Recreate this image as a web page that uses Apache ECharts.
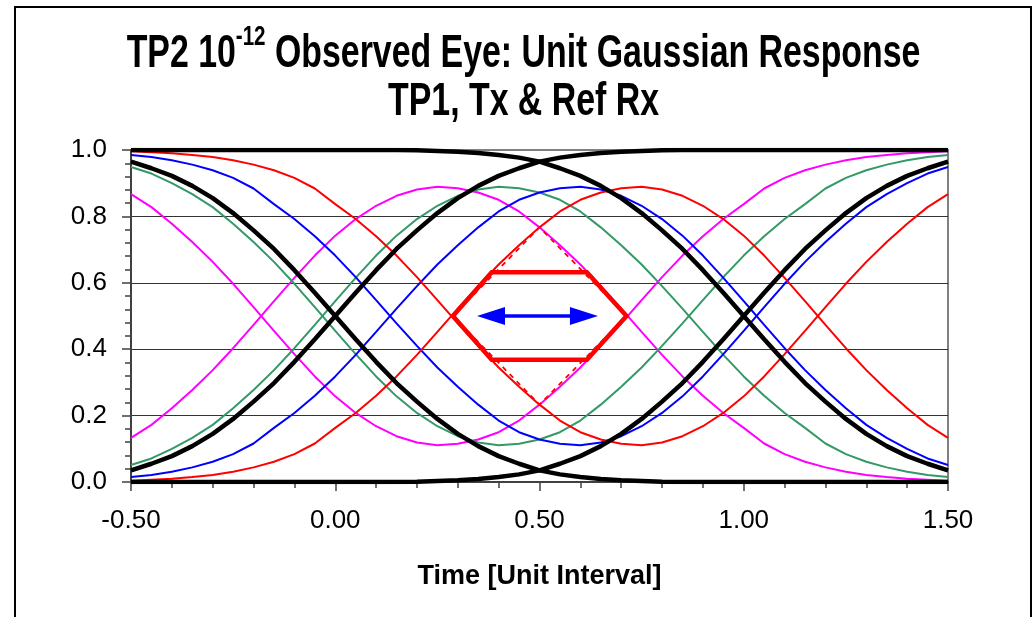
<!DOCTYPE html>
<html><head><meta charset="utf-8">
<script src="https://cdn.jsdelivr.net/npm/echarts/dist/echarts.min.js"></script>
<style>html,body{margin:0;padding:0;background:#fff}#c{width:1033px;height:617px}</style>
</head><body><div id="c"></div>
<script>
// time axis samples [UI]
const xs = [-0.5,-0.45,-0.4,-0.35,-0.3,-0.25,-0.2,-0.15,-0.1,-0.05,0,0.05,0.1,0.15,0.2,0.25,0.3,0.35,0.4,0.45,0.5,0.55,0.6,0.65,0.7,0.75,0.8,0.85,0.9,0.95,1,1.05,1.1,1.15,1.2,1.25,1.3,1.35,1.4,1.45,1.5];

// black (thick) edges
const blackRise0 = [0.035,0.055,0.078,0.108,0.145,0.190,0.242,0.298,0.362,0.430,0.500,0.570,0.638,0.702,0.758,0.810,0.855,0.892,0.922,0.945,0.965,0.977,0.985,0.991,0.995,0.997,0.999,1,1,1,1,1,1,1,1,1,1,1,1,1,1];
const blackFall0 = [0.965,0.945,0.922,0.892,0.855,0.810,0.758,0.702,0.638,0.570,0.500,0.430,0.362,0.298,0.242,0.190,0.145,0.108,0.078,0.055,0.035,0.023,0.015,0.009,0.005,0.003,0.001,0,0,0,0,0,0,0,0,0,0,0,0,0,0];
const blackRise1 = [0,0,0,0,0,0,0,0,0,0,0,0,0,0,0.001,0.003,0.005,0.009,0.015,0.023,0.035,0.055,0.078,0.108,0.145,0.190,0.242,0.298,0.362,0.430,0.500,0.570,0.638,0.702,0.758,0.810,0.855,0.892,0.922,0.945,0.965];
const blackFall1 = [1,1,1,1,1,1,1,1,1,1,1,1,1,1,0.999,0.997,0.995,0.991,0.985,0.977,0.965,0.945,0.922,0.892,0.855,0.810,0.758,0.702,0.638,0.570,0.500,0.430,0.362,0.298,0.242,0.190,0.145,0.108,0.078,0.055,0.035];

// coloured pulses and their complements
const magentaPulse = [0.133,0.172,0.222,0.277,0.337,0.403,0.473,0.545,0.615,0.682,0.742,0.792,0.832,0.862,0.881,0.889,0.885,0.872,0.850,0.815,0.767,0.713,0.655,0.590,0.522,0.452,0.383,0.318,0.260,0.208,0.163,0.116,0.084,0.061,0.044,0.031,0.021,0.015,0.010,0.007,0.004];
const magentaInv = [0.867,0.828,0.778,0.723,0.663,0.597,0.527,0.455,0.385,0.318,0.258,0.208,0.168,0.138,0.119,0.111,0.115,0.128,0.150,0.185,0.233,0.287,0.345,0.410,0.478,0.548,0.617,0.682,0.740,0.792,0.837,0.884,0.916,0.939,0.956,0.969,0.979,0.985,0.990,0.993,0.996];
const greenPulse = [0.051,0.071,0.100,0.133,0.172,0.222,0.277,0.337,0.403,0.473,0.545,0.615,0.682,0.742,0.792,0.832,0.862,0.881,0.889,0.885,0.872,0.850,0.815,0.767,0.713,0.655,0.590,0.522,0.452,0.383,0.318,0.260,0.208,0.163,0.116,0.084,0.061,0.044,0.031,0.021,0.015];
const greenInv = [0.949,0.929,0.900,0.867,0.828,0.778,0.723,0.663,0.597,0.527,0.455,0.385,0.318,0.258,0.208,0.168,0.138,0.119,0.111,0.115,0.128,0.150,0.185,0.233,0.287,0.345,0.410,0.478,0.548,0.617,0.682,0.740,0.792,0.837,0.884,0.916,0.939,0.956,0.969,0.979,0.985];
const bluePulse = [0.015,0.021,0.031,0.044,0.061,0.084,0.116,0.163,0.208,0.260,0.318,0.383,0.452,0.522,0.590,0.655,0.713,0.767,0.815,0.850,0.872,0.885,0.889,0.881,0.862,0.832,0.792,0.742,0.682,0.615,0.545,0.473,0.403,0.337,0.277,0.222,0.172,0.133,0.100,0.071,0.051];
const blueInv = [0.985,0.979,0.969,0.956,0.939,0.916,0.884,0.837,0.792,0.740,0.682,0.617,0.548,0.478,0.410,0.345,0.287,0.233,0.185,0.150,0.128,0.115,0.111,0.119,0.138,0.168,0.208,0.258,0.318,0.385,0.455,0.527,0.597,0.663,0.723,0.778,0.828,0.867,0.900,0.929,0.949];
const redPulse = [0.004,0.007,0.010,0.015,0.021,0.031,0.044,0.061,0.084,0.116,0.163,0.208,0.260,0.318,0.383,0.452,0.522,0.590,0.655,0.713,0.767,0.815,0.850,0.872,0.885,0.889,0.881,0.862,0.832,0.792,0.742,0.682,0.615,0.545,0.473,0.403,0.337,0.277,0.222,0.172,0.133];
const redInv = [0.996,0.993,0.990,0.985,0.979,0.969,0.956,0.939,0.916,0.884,0.837,0.792,0.740,0.682,0.617,0.548,0.478,0.410,0.345,0.287,0.233,0.185,0.150,0.128,0.115,0.111,0.119,0.138,0.168,0.208,0.258,0.318,0.385,0.455,0.527,0.597,0.663,0.723,0.778,0.828,0.867];

// eye mask (hexagon) and limit diamond
const maskX = [0.288,0.383,0.616,0.713,0.616,0.383,0.288];
const maskY = [0.5,0.632,0.632,0.5,0.368,0.368,0.5];
const diamondX = [0.288,0.5,0.713,0.5,0.288];
const diamondY = [0.5,0.767,0.5,0.233,0.5];
// eye width arrow
const arrowX = [0.347,0.643];
const arrowY = 0.5;

// tick labels / titles
const titleLine1 = ['TP2 10', '-12', ' Observed Eye: Unit Gaussian Response'];
const titleLine2 = 'TP1, Tx & Ref Rx';
const xName = 'Time [Unit Interval]';

const pts = arr => xs.map((x, i) => [x, arr[i]]);
const xy = (X, Y) => X.map((x, i) => [x, Y[i]]);

function lineSeries(arr, color, width) {
  return { type: 'line', data: pts(arr), symbol: 'none', showSymbol: false, silent: true,
    lineStyle: { color: color, width: width }, itemStyle: { color: color }, animation: false };
}

const FONT = '"Liberation Sans", Arial, sans-serif';
const ctx = document.createElement('canvas').getContext('2d');
function tw(t, size) { ctx.font = 'bold ' + size + 'px "Liberation Sans"'; return ctx.measureText(t).width; }
const TS = 46, SS = 28, SX = 0.736, CX = 523.5, Y1 = 54, Y2 = 102, YS = 37;
const w1 = tw(titleLine1[0], TS), w2 = tw(titleLine1[1], SS), w3 = tw(titleLine1[2], TS);
const L1 = CX - (w1 + w2 + w3) * SX / 2;
const wl2 = tw(titleLine2, TS);
const L2 = CX - wl2 * SX / 2;
function tText(text, x, y, size) {
  return { type: 'text', x: x, y: y, scaleX: SX, z: 100,
    style: { text: text, fontSize: size, fontWeight: 'bold', fontFamily: FONT, fill: '#000',
      align: 'left', verticalAlign: 'middle', textAlign: 'left', textVerticalAlign: 'middle' } };
}

const chart = echarts.init(document.getElementById('c'), null, { renderer: 'canvas' });
chart.setOption({
  animation: false,
  backgroundColor: '#fff',
  grid: { left: 131, right: 85, top: 150, bottom: 135, show: true, borderColor: '#808080', borderWidth: 2,
    backgroundColor: 'transparent', containLabel: false, outerBoundsMode: 'none' },
  xAxis: {
    type: 'value', min: -0.5, max: 1.5, interval: 0.5,
    axisLine: { show: true, onZero: false, lineStyle: { color: '#404040', width: 2 } },
    axisTick: { show: true, length: 9, lineStyle: { color: '#404040', width: 1.5 } },
    minorTick: { show: true, splitNumber: 5, length: 6, lineStyle: { color: '#404040', width: 1.5 } },
    splitLine: { show: false }, minorSplitLine: { show: false },
    axisLabel: { show: true, fontSize: 26, color: '#000', fontFamily: FONT, margin: 26,
      showMinLabel: true, showMaxLabel: true, hideOverlap: false, formatter: v => v.toFixed(2) },
    name: xName, nameLocation: 'middle', nameGap: 81,
    nameTextStyle: { fontSize: 27, fontWeight: 'bold', color: '#000', fontFamily: FONT }
  },
  yAxis: {
    type: 'value', min: 0, max: 1, interval: 0.2,
    axisLine: { show: true, onZero: false, lineStyle: { color: '#404040', width: 2 } },
    axisTick: { show: true, length: 9, lineStyle: { color: '#404040', width: 1.5 } },
    minorTick: { show: true, splitNumber: 5, length: 6, lineStyle: { color: '#404040', width: 1.5 } },
    splitLine: { show: true, showMinLine: true, showMaxLine: true,
      lineStyle: { color: ['#404040', '#333', '#333', '#333', '#333', '#808080'], width: 1.2 } },
    axisLabel: { show: true, fontSize: 26, color: '#000', fontFamily: FONT, margin: 24,
      showMinLabel: true, showMaxLabel: true, hideOverlap: false, formatter: v => v.toFixed(1) }
  },
  graphic: [
    { type: 'rect', z: 100, shape: { x: 15, y: 7, width: 1016, height: 640 },
      style: { fill: 'none', stroke: '#000', lineWidth: 2 } },
    tText(titleLine1[0], L1, Y1, TS),
    tText(titleLine1[1], L1 + w1 * SX, YS, SS),
    tText(titleLine1[2], L1 + (w1 + w2) * SX, Y1, TS),
    tText(titleLine2, L2, Y2, TS)
  ],
  series: [
    lineSeries(magentaPulse, '#FF00FF', 2),
    lineSeries(magentaInv, '#FF00FF', 2),
    lineSeries(greenPulse, '#339966', 2),
    lineSeries(greenInv, '#339966', 2),
    lineSeries(bluePulse, '#0000FF', 2),
    lineSeries(blueInv, '#0000FF', 2),
    lineSeries(redPulse, '#FF0000', 2),
    lineSeries(redInv, '#FF0000', 2),
    lineSeries(blackRise0, '#000000', 4.5),
    lineSeries(blackFall0, '#000000', 4.5),
    lineSeries(blackRise1, '#000000', 4.5),
    lineSeries(blackFall1, '#000000', 4.5),
    { type: 'line', data: xy(diamondX, diamondY), symbol: 'none', silent: true, z: 5,
      lineStyle: { color: '#FF0000', width: 1.8, type: [5, 5] }, animation: false },
    { type: 'line', data: xy(maskX, maskY), symbol: 'none', silent: true, z: 6,
      lineStyle: { color: '#FF0000', width: 4.5, join: 'miter' }, animation: false },
    { type: 'custom', coordinateSystem: 'cartesian2d', z: 7, silent: true, animation: false,
      data: [[arrowX[0], arrowY, arrowX[1], arrowY]],
      encode: { x: [0, 2], y: [1, 3] },
      renderItem: function (params, api) {
        const a = api.coord([api.value(0), api.value(1)]);
        const b = api.coord([api.value(2), api.value(3)]);
        const hl = 28, hw = 9;
        return { type: 'group', children: [
          { type: 'line', shape: { x1: a[0] + hl - 2, y1: a[1], x2: b[0] - hl + 2, y2: b[1] },
            style: { stroke: '#0000FF', lineWidth: 3.5 } },
          { type: 'polygon', shape: { points: [[a[0], a[1]], [a[0] + hl, a[1] - hw], [a[0] + hl, a[1] + hw]] },
            style: { fill: '#0000FF' } },
          { type: 'polygon', shape: { points: [[b[0], b[1]], [b[0] - hl, b[1] - hw], [b[0] - hl, b[1] + hw]] },
            style: { fill: '#0000FF' } }
        ] };
      } }
  ]
});
</script>
</body></html>
